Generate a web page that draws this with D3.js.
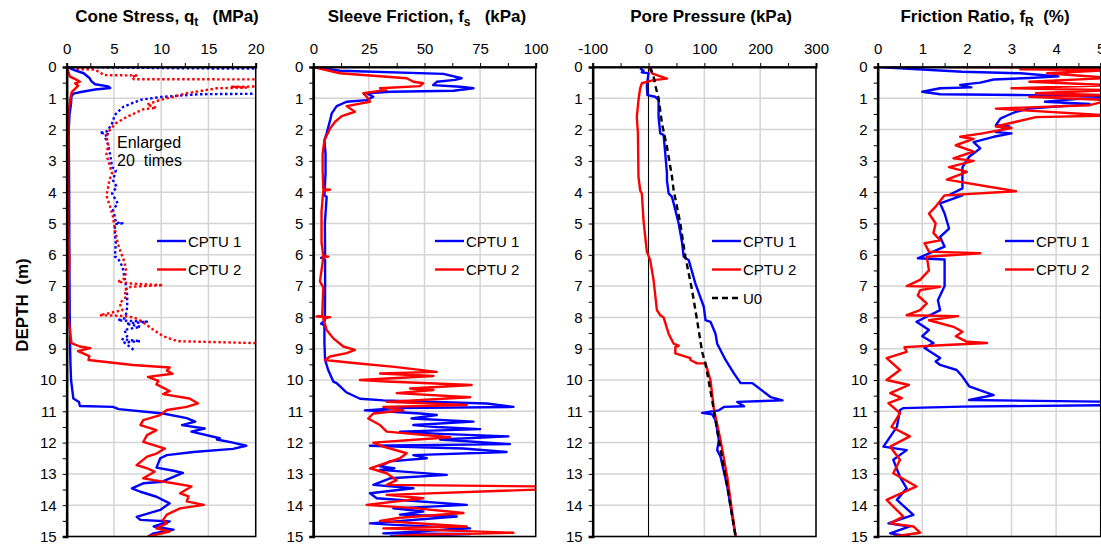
<!DOCTYPE html>
<html>
<head>
<meta charset="utf-8">
<script src="https://cdn.jsdelivr.net/npm/d3@7/dist/d3.min.js"></script>
<style>
  body { margin: 0; background: #fff; }
  svg { display: block; font-family: "Liberation Sans", Arial, sans-serif; }
  text { white-space: pre; }
</style>
</head>
<body>
<svg id="chart" width="1101" height="544"></svg>
<script>
// ---- data: [depth (m), value] ----
var depth_ticks = d3.range(0, 16, 1);

// cone stress qt (MPa)
var qt1 = [[0,0],[0.1,0.8],[0.2,1.8],[0.35,2.4],[0.45,2.6],[0.55,3.0],[0.62,4.4],[0.67,4.6],[0.72,3.0],[0.8,1.5],[0.85,0.7],[0.95,0.5],[1.2,0.45],[1.5,0.3],[2,0.22],[3,0.24],[4,0.26],[5,0.27],[6,0.28],[7,0.3],[8,0.32],[8.5,0.35],[9,0.36],[9.5,0.4],[10,0.46],[10.59,0.7],[10.7,1.3],[10.83,1.4],[10.86,4.9],[10.93,5.5],[11.07,10.2],[11.22,12.7],[11.33,13.6],[11.44,12.2],[11.55,14.6],[11.65,13.2],[11.86,16.2],[11.9,15.9],[12.0,17.6],[12.1,19.0],[12.2,17.6],[12.3,13.4],[12.4,10.6],[12.5,9.9],[12.8,9.5],[12.9,11.3],[12.97,12.3],[13.25,10.1],[13.3,8.1],[13.46,6.9],[13.57,7.8],[13.73,9.5],[13.94,10.9],[14.15,9.9],[14.37,7.4],[14.47,7.8],[14.52,10.9],[14.68,9.2],[14.78,11.3],[14.9,9.2],[15,8.6]];
var qt2 = [[0,0],[0.31,0.35],[0.41,1.06],[0.47,1.4],[0.52,0.88],[0.6,1.2],[0.8,0.53],[1.08,0.35],[1.5,0.18],[3,0.16],[5,0.16],[6.17,0.28],[7,0.2],[7.87,0.2],[7.97,0.02],[8.05,0.2],[8.82,0.5],[8.93,1.4],[8.98,2.5],[9.08,1.2],[9.24,2.4],[9.36,2.3],[9.52,7.0],[9.6,10.9],[9.7,10.6],[9.8,11.2],[9.9,8.6],[10.03,9.7],[10.14,9.5],[10.35,10.9],[10.45,10.2],[10.59,13.0],[10.75,13.9],[10.86,12.7],[10.96,10.6],[11.12,9.9],[11.28,8.1],[11.44,7.8],[11.6,9.5],[11.76,8.5],[11.98,8.1],[12.08,9.2],[12.19,10.4],[12.35,9.5],[12.45,8.5],[12.72,7.4],[12.82,8.5],[12.93,9.3],[13.14,8.1],[13.2,9.2],[13.3,11.3],[13.4,13.2],[13.62,12.0],[13.72,12.9],[13.88,12.7],[13.99,14.5],[14.1,12.0],[14.3,10.6],[14.47,10.2],[14.58,10.6],[14.74,9.5],[14.84,10.9],[15,8.6]];
// the same soundings enlarged 20 times (dotted)
var qt1_x20 = [[0,0],[0.04,12],[0.07,30],[0.83,30],[0.87,14],[0.96,9.9],[1.05,7.8],[1.27,6.0],[1.53,5.1],[1.8,4.8],[2.05,4.3],[2.1,3.5],[2.15,4.5],[2.2,4.0],[2.5,4.4],[2.8,4.6],[3.2,4.8],[3.3,5.2],[3.62,4.9],[3.83,5.3],[4.04,4.8],[4.2,5.1],[4.36,5.4],[4.57,4.9],[4.78,5.1],[4.97,5.2],[4.99,5.9],[5.02,5.1],[5.31,5.1],[5.63,5.2],[6.06,5.1],[6.1,5.4],[6.38,5.9],[6.7,6.1],[7.02,6.3],[7.29,6.4],[7.66,6.4],[7.87,6.3],[8.03,6.1],[8.09,5.4],[8.14,8.5],[8.2,6.3],[8.3,7.8],[8.4,6.1],[8.6,6.4],[8.7,5.9],[8.76,7.8],[8.8,6.1],[9.04,7.1]];
var qt2_x20 = [[0,0],[0.07,1.1],[0.08,2.8],[0.16,3.5],[0.26,3.9],[0.27,7.5],[0.31,6.9],[0.39,7.1],[0.4,30],[0.6,30],[0.63,17.5],[0.66,19],[0.68,15.9],[0.84,12.7],[0.95,11.3],[1.05,9.9],[1.2,8.5],[1.3,9.5],[1.35,8.1],[1.59,6.4],[1.8,5.2],[2.0,4.6],[2.2,4.2],[2.5,4.4],[2.8,4.2],[3.2,4.6],[3.4,4.8],[3.62,4.5],[3.83,4.4],[4.1,4.2],[4.47,4.6],[4.78,4.9],[5.2,5.1],[5.63,5.4],[5.9,5.7],[6.22,6.1],[6.54,6.3],[6.76,6.1],[6.86,5.4],[6.92,6.9],[6.97,10.2],[7.02,6.8],[7.13,6.1],[7.34,6.3],[7.55,5.6],[7.77,5.9],[7.93,3.5],[7.95,5.9],[8.0,7.1],[8.1,7.8],[8.4,9.2],[8.6,10.2],[8.76,11.7],[8.82,20],[8.84,40]];

// sleeve friction fs (kPa)
var fs1 = [[0,0],[0.12,12],[0.22,58.5],[0.36,66.7],[0.41,63.7],[0.47,55.6],[0.58,53.9],[0.63,66],[0.68,72],[0.76,63],[0.79,34.5],[0.84,24],[0.95,27],[1.06,24],[1.11,15],[1.25,10.5],[1.48,8.3],[1.69,7.6],[2.12,6.0],[2.34,5.0],[2.77,5.5],[3.4,5.5],[4.1,5.0],[4.15,6.0],[5,5.2],[6.05,5.3],[6.1,3.5],[6.15,5.3],[7,5.3],[8.1,5.2],[8.2,3.5],[8.25,5.0],[8.8,5.0],[9.36,5.3],[9.68,6.7],[10.05,9],[10.1,10.5],[10.4,15],[10.6,21],[10.65,31.5],[10.75,78],[10.86,90],[10.9,37.5],[10.97,23.2],[11.0,31.5],[11.07,48],[11.12,55.5],[11.23,44.2],[11.33,72],[11.44,45],[11.5,55.5],[11.57,75],[11.65,39],[11.72,57],[11.8,87.7],[11.9,57],[12.05,88.4],[12.1,25.5],[12.19,67.4],[12.3,86.9],[12.4,45],[12.5,51],[12.6,34.5],[12.76,30],[12.82,36.4],[12.87,30],[13.03,60],[13.14,34.5],[13.35,27],[13.46,45],[13.62,25.5],[13.78,28.5],[13.99,69],[14.1,36],[14.2,49.4],[14.3,39],[14.36,64.5],[14.58,25.5],[14.62,34.5],[14.74,70.5],[14.9,31.5],[14.92,70.5],[15,34.5]];
var fs2 = [[0,0],[0.2,12],[0.36,42],[0.47,45],[0.52,49.4],[0.61,47.9],[0.68,30],[0.73,33],[0.84,22.5],[0.95,24],[1.11,25.5],[1.25,15],[1.43,18.7],[1.57,12.8],[1.75,9.8],[1.96,7.6],[2.34,5.0],[2.77,4.2],[3.3,4.2],[3.9,4.5],[3.92,7.5],[3.95,4.5],[4.6,3.7],[5.6,3.7],[6.04,4.5],[6.06,6.7],[6.08,4.5],[6.85,3.0],[7.05,4.5],[7.95,4.0],[7.97,1.5],[7.99,7.5],[8.05,4.5],[8.4,6],[8.67,9],[8.93,13.5],[9.04,18.7],[9.14,15],[9.25,7.5],[9.36,5.3],[9.45,17],[9.58,36.5],[9.74,55.5],[9.79,30],[9.87,54],[10.0,21],[10.05,33],[10.16,71.2],[10.27,43.5],[10.32,54],[10.42,37.5],[10.55,70.5],[10.7,33],[10.8,69],[10.86,31.5],[10.97,40.5],[11.07,27],[11.23,24.7],[11.44,30],[11.65,33],[11.83,61.5],[12.0,27],[12.13,31.5],[12.34,42],[12.5,39],[12.82,25.5],[12.98,33],[13.2,37.5],[13.35,33],[13.4,101],[13.5,101],[13.67,33],[13.78,49.4],[13.99,24],[14.1,46.5],[14.25,67.5],[14.4,39],[14.5,30],[14.68,69],[14.74,31.5],[14.88,90],[14.95,45],[15,36]];

// pore pressure u (kPa)
var u1 = [[0.05,-15],[0.12,-9],[0.17,-12],[0.2,0],[0.6,-3],[0.9,-2],[0.95,12],[1.06,18],[1.6,18],[2.12,21],[2.17,27],[2.77,30],[3.4,33],[3.62,33],[4.04,36],[4.15,42],[4.57,48],[5.0,54],[5.6,60],[6.06,63],[6.17,72],[6.92,84],[7.66,99],[8.09,102],[8.14,111],[8.52,120],[8.84,123],[9.36,138],[9.79,153],[10.1,165],[10.1,186],[10.55,219],[10.65,240],[10.7,159],[10.84,171],[10.86,135],[10.97,126],[11.05,96],[11.1,114],[11.28,120],[11.92,126],[12.24,123],[12.45,129],[13.4,141],[15,156]];
var u2 = [[0,0],[0.2,6],[0.37,33],[0.42,9],[0.46,0],[0.52,-12],[0.68,-15],[1.06,-18],[1.6,-21],[2.1,-19],[3.5,-18],[3.94,-15],[4.04,-12],[4.9,-9],[5.9,-3],[6.17,3],[6.8,9],[7.77,15],[7.93,21],[8.0,27],[8.52,36],[8.84,45],[8.9,54],[8.95,48],[9.15,48],[9.3,75],[9.36,75],[9.47,87],[9.47,102],[10.0,111],[10.92,117],[11.92,129],[13.1,141],[15,156]];
var u0 = [[0,3],[0.3,9],[0.58,12],[1.0,18],[1.8,24],[2.55,33],[3.5,42],[3.94,45],[5.0,57],[6.06,66],[7.13,78],[8.09,87],[9.1,96],[9.47,102],[10.65,114],[11.92,126],[13.4,141],[15,156]];

// friction ratio fR (%)
var fr1 = [[0,0],[0.15,1.9],[0.2,3.2],[0.3,4.05],[0.35,3.4],[0.4,2.6],[0.5,2.3],[0.57,1.85],[0.65,2.1],[0.68,1.4],[0.79,1.0],[0.87,1.4],[0.9,3.4],[0.95,5.2],[1.06,4.15],[1.11,3.75],[1.18,4.75],[1.33,3.4],[1.43,3.1],[1.55,2.9],[1.65,2.75],[1.86,2.65],[1.9,2.95],[2.08,2.65],[2.12,3.0],[2.23,2.6],[2.4,2.15],[2.6,2.3],[2.87,2.05],[3.2,1.9],[3.5,1.9],[3.88,1.9],[4.09,1.6],[4.1,1.9],[4.36,1.4],[4.68,1.5],[5.16,1.6],[5.43,1.4],[5.74,1.5],[6.11,0.9],[6.15,1.5],[6.38,1.5],[7.0,1.5],[7.45,1.35],[7.77,1.4],[7.98,1.1],[8.14,0.87],[8.4,1.15],[8.6,1.0],[8.82,1.25],[8.98,1.05],[9.3,1.4],[9.41,1.3],[9.52,1.4],[9.68,1.77],[9.89,1.9],[10.2,2.05],[10.48,2.6],[10.64,2.05],[10.7,5.5],[10.8,5.5],[10.85,1.9],[10.9,0.57],[10.96,0.5],[11.5,0.43],[12.13,0.13],[12.24,0.65],[12.55,0.35],[13.1,0.5],[13.46,0.65],[13.83,0.43],[14.31,0.8],[14.58,0.24],[14.68,0.72],[14.9,0.28],[15,0.72]];
var fr2 = [[0,1.6],[0.02,5.2],[0.07,3.2],[0.1,5.2],[0.2,3.8],[0.35,5.2],[0.47,3.4],[0.58,5.2],[0.68,3.0],[0.74,5.2],[0.84,3.55],[0.9,5.2],[0.95,3.4],[1.06,5.2],[1.22,4.75],[1.33,2.65],[1.55,5.2],[1.6,3.55],[1.75,3.1],[1.9,2.65],[1.95,3.0],[2.12,2.35],[2.23,1.85],[2.3,2.15],[2.5,1.75],[2.7,2.15],[2.92,1.7],[3.0,2.15],[3.2,1.6],[3.35,2.0],[3.6,1.55],[3.97,3.1],[4.1,1.5],[4.46,1.3],[4.68,1.15],[5.0,1.3],[5.3,1.25],[5.54,1.4],[5.63,1.05],[5.9,1.15],[5.95,2.3],[6.06,1.1],[6.5,1.15],[6.8,0.95],[7.0,0.65],[7.02,1.4],[7.13,0.95],[7.3,0.9],[7.55,1.1],[7.77,0.95],[7.93,0.65],[7.96,1.8],[8.09,1.15],[8.3,1.7],[8.46,1.9],[8.6,1.75],[8.78,2.0],[8.82,2.45],[8.9,1.3],[8.95,0.6],[9.1,0.65],[9.3,0.2],[9.68,0.5],[10.0,0.2],[10.16,0.7],[10.42,0.28],[10.58,0.54],[10.74,0.24],[11.06,0.5],[11.5,0.31],[11.8,0.72],[12.13,0.28],[12.55,0.5],[12.98,0.35],[13.4,0.87],[13.83,0.2],[14.36,0.57],[14.58,0.28],[14.68,0.8],[14.88,0.95],[15,0.35]];

// ---- layout ----
var width = 1101, height = 544;
var top_y = 67, bottom_y = 536.5;
var blue = '#0000ff', red = '#ff0000';

var svg = d3.select('#chart');

var y_scale = d3.scaleLinear().domain([0, 15]).range([top_y, bottom_y]);

var panels = [
    { x0: 66.7, x1: 255.7, domain: [0, 20], major: [0, 5, 10, 15, 20], step: 2.5,
      title: ['Cone Stress, q', 't', '   (MPa)'], title_x: 167,
      series: [
        { data: qt1_x20, color: blue, dash: '2.5,2.5' },
        { data: qt2_x20, color: red, dash: '2.5,2.5' },
        { data: qt1, color: blue },
        { data: qt2, color: red }
      ],
      legend_x: 157, legend: [['CPTU 1', blue], ['CPTU 2', red]] },
    { x0: 313.3, x1: 535.7, domain: [0, 100], major: [0, 25, 50, 75, 100], step: 12.5,
      title: ['Sleeve Friction, f', 's', '   (kPa)'], title_x: 427,
      series: [ { data: fs1, color: blue }, { data: fs2, color: red } ],
      legend_x: 435, legend: [['CPTU 1', blue], ['CPTU 2', red]] },
    { x0: 592.7, x1: 816, domain: [-100, 300], major: [-100, 0, 100, 200, 300], step: 50,
      title: ['Pore Pressure (kPa)', '', ''], title_x: 711, zero_line: true,
      series: [ { data: u1, color: blue }, { data: u2, color: red }, { data: u0, color: '#000', dash: '6,4' } ],
      legend_x: 712, legend: [['CPTU 1', blue], ['CPTU 2', red], ['U0', '#000', '6,4']] },
    { x0: 877.7, x1: 1100.7, domain: [0, 5], major: [0, 1, 2, 3, 4, 5], step: 0.5,
      title: ['Friction Ratio, f', 'R', '  (%)'], title_x: 985,
      series: [ { data: fr1, color: blue }, { data: fr2, color: red } ],
      legend_x: 1005, legend: [['CPTU 1', blue], ['CPTU 2', red]] }
];

panels.forEach(function(p, i) {
    var x_scale = d3.scaleLinear().domain(p.domain).range([p.x0, p.x1]);
    var g = svg.append('g');

    // clip
    svg.append('clipPath').attr('id', 'clip' + i)
        .append('rect')
        .attr('x', p.x0).attr('y', top_y)
        .attr('width', p.x1 - p.x0).attr('height', bottom_y - top_y);

    // grid
    g.append('g').selectAll('line.h')
        .data(depth_ticks)
        .enter().append('line')
        .attr('x1', p.x0).attr('x2', p.x1)
        .attr('y1', function(d) { return y_scale(d); })
        .attr('y2', function(d) { return y_scale(d); })
        .attr('stroke', '#d4d4d4').attr('stroke-width', 1.5);
    g.append('g').selectAll('line.v')
        .data(p.major)
        .enter().append('line')
        .attr('x1', function(d) { return x_scale(d); })
        .attr('x2', function(d) { return x_scale(d); })
        .attr('y1', top_y).attr('y2', bottom_y)
        .attr('stroke', '#d4d4d4').attr('stroke-width', 1.5);

    if (p.zero_line) {
        g.append('line')
            .attr('x1', x_scale(0)).attr('x2', x_scale(0))
            .attr('y1', top_y).attr('y2', bottom_y)
            .attr('stroke', '#000').attr('stroke-width', 1);
    }

    // lines
    var line = d3.line()
        .x(function(d) { return x_scale(d[1]); })
        .y(function(d) { return y_scale(d[0]); });

    var lines = g.append('g').attr('clip-path', 'url(#clip' + i + ')');
    p.series.forEach(function(s) {
        lines.append('path')
            .datum(s.data)
            .attr('fill', 'none')
            .attr('stroke', s.color)
            .attr('stroke-width', 2.4)
            .attr('stroke-linejoin', 'round')
            .attr('stroke-dasharray', s.dash || null)
            .attr('d', line);
    });

    // box
    g.append('rect')
        .attr('x', p.x0).attr('y', top_y)
        .attr('width', p.x1 - p.x0).attr('height', bottom_y - top_y)
        .attr('fill', 'none').attr('stroke', '#000').attr('stroke-width', 1.5);

    // top axis
    var x_ticks = d3.range(p.domain[0], p.domain[1] + p.step / 2, p.step);
    var x_axis = d3.axisTop(x_scale)
        .tickValues(x_ticks)
        .tickSize(4)
        .tickFormat(function(d) { return p.major.indexOf(d) >= 0 ? d : ''; });
    var xa = g.append('g')
        .attr('transform', 'translate(0,' + top_y + ')')
        .call(x_axis);
    xa.select('.domain').attr('stroke-width', 2);
    xa.selectAll('text').style('font-size', '15px').attr('fill', '#000').attr('y', -13);

    // left axis
    var y_axis = d3.axisLeft(y_scale)
        .tickValues(d3.range(0, 15.25, 0.5))
        .tickSize(4)
        .tickFormat(function(d) { return d % 1 === 0 ? d : ''; });
    var ya = g.append('g')
        .attr('transform', 'translate(' + p.x0 + ',0)')
        .call(y_axis);
    ya.select('.domain').attr('stroke-width', 2.5);
    ya.selectAll('text').style('font-size', '15px').attr('fill', '#000').attr('x', -10);

    // title
    var t = svg.append('text')
        .attr('x', p.title_x).attr('y', 22)
        .attr('text-anchor', 'middle')
        .style('font-size', '17px').style('font-weight', 'bold');
    t.append('tspan').text(p.title[0]);
    if (p.title[1]) {
        t.append('tspan').attr('dy', 4).style('font-size', '12px').text(p.title[1]);
        t.append('tspan').attr('dy', -4).text(p.title[2]);
    }

    // legend
    var legend = svg.append('g').attr('class', 'legend');
    p.legend.forEach(function(l, j) {
        var ly = 241 + j * 28.5;
        legend.append('line')
            .attr('x1', p.legend_x).attr('x2', p.legend_x + 29)
            .attr('y1', ly).attr('y2', ly)
            .attr('stroke', l[1]).attr('stroke-width', 2.4)
            .attr('stroke-dasharray', l[2] || null);
        legend.append('text')
            .attr('x', p.legend_x + 31).attr('y', ly + 5.5)
            .style('font-size', '15px')
            .text(l[0]);
    });
});

// "Enlarged 20 times" note
var note = svg.append('text').style('font-size', '16px');
note.append('tspan').attr('x', 117).attr('y', 148).text('Enlarged');
note.append('tspan').attr('x', 117).attr('y', 166).text('20  times');

// depth label
svg.append('text')
    .attr('transform', 'translate(28,' + 305 + ') rotate(-90)')
    .attr('text-anchor', 'middle')
    .style('font-size', '17px').style('font-weight', 'bold')
    .text('DEPTH  (m)');
</script>
</body>
</html>
